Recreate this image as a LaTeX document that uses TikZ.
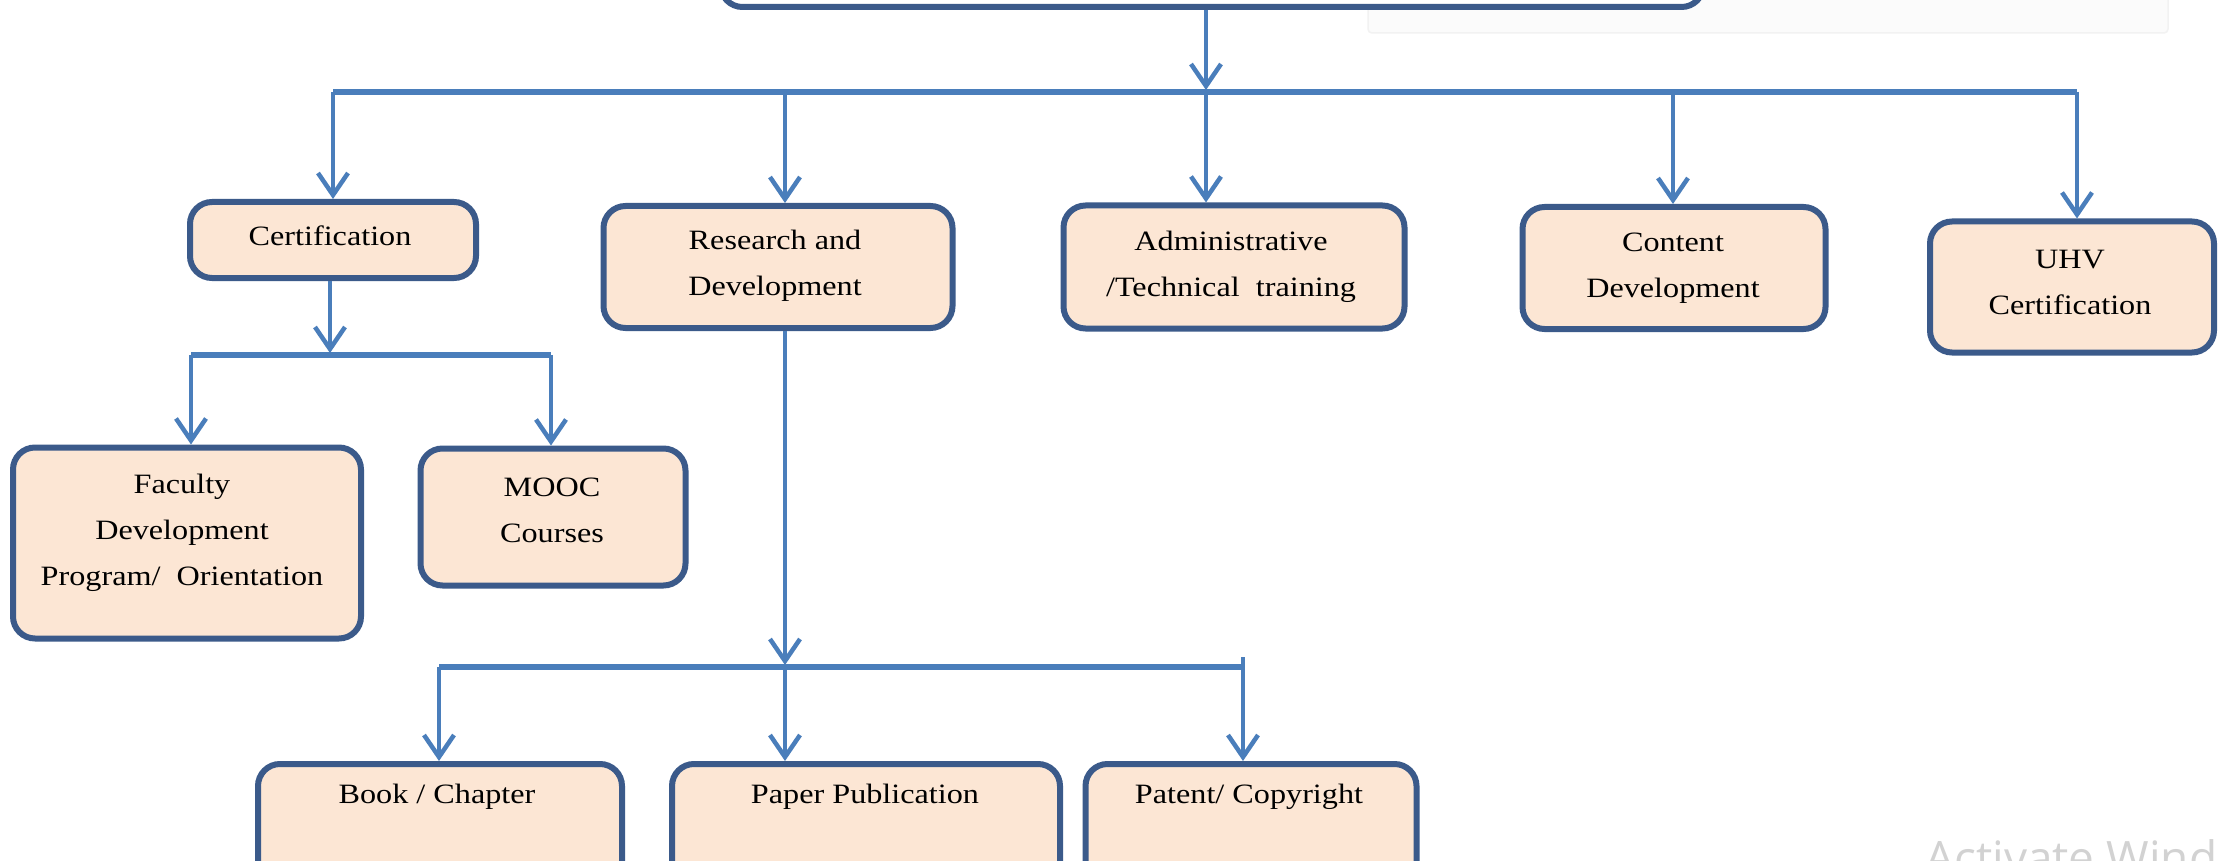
\documentclass[tikz,border=0pt]{standalone}
\usepackage{fontspec}
\setmainfont{Liberation Serif}[FakeStretch=1.15]
\newfontfamily\wmfont{Open Sans}
\usetikzlibrary{arrows.meta}
\definecolor{boxc}{HTML}{3B5A8A}
\definecolor{fillc}{HTML}{FCE6D4}
\definecolor{arrc}{HTML}{4A7EBB}
\begin{document}
\begin{tikzpicture}[x=1pt,y=-1pt,
  box/.style 2 args={draw=boxc, line width=6pt, fill=fillc, rounded corners=22pt,
    inner sep=0pt, minimum width=#1, minimum height=#2},
  txt/.style={font=\fontsize{28}{46}\selectfont, align=center, text=black, inner sep=0pt},
  arr/.style={draw=arrc, line width=4.5pt, -{Straight Barb[length=22pt,width=30pt]}},
  bar/.style={draw=arrc, line width=6pt}]
\useasboundingbox (0,0) rectangle (2219,861);
\clip (0,0) rectangle (2219,861);
\fill[white] (0,0) rectangle (2219,861);
% faint overlay
\draw[gray!10, fill=gray!3, rounded corners=4pt, line width=1.5pt] (1368,-10) rectangle (2168,33);
% boxes
\node[box={983pt}{140pt}, fill=white] (top) at (1212,-63) {};
\node[box={286pt}{76pt}] (cert) at (333,240) {};
\node[box={349pt}{122pt}] (rd) at (778,267) {};
\node[box={341pt}{123pt}] (admin) at (1234,267) {};
\node[box={303pt}{122pt}] (content) at (1674,268) {};
\node[box={284pt}{131pt}] (uhv) at (2072,287) {};
\node[box={348pt}{191pt}] (fac) at (187,543) {};
\node[box={265pt}{137pt}] (mooc) at (553,517) {};
\node[box={364pt}{136pt}] (book) at (440,832) {};
\node[box={388pt}{136pt}] (paper) at (866,832) {};
\node[box={331pt}{136pt}] (patent) at (1251,832) {};
% texts
\node[txt] (cert-t) at (330,236) {Certification};
\node[txt] (rd-t) at (775,266) {Research and\\Development};
\node[txt] (admin-t) at (1231,267) {Administrative\\/Technical\ \ training};
\node[txt] (content-t) at (1673,268) {Content\\Development};
\node[txt] (uhv-t) at (2070,282) {UHV\\Certification};
\node[txt] (fac-t) at (182,533) {Faculty\\Development\\Program/\ \ Orientation};
\node[txt] (mooc-t) at (552,510) {MOOC\\Courses};
\node[txt] (book-t) at (437,797) {Book / Chapter};
\node[txt] (paper-t) at (865,797) {Paper Publication};
\node[txt] (patent-t) at (1249,797) {Patent/ Copyright};
% main bus
\coordinate (j1) at (1206,90);
\coordinate (bl) at (333,92);
\coordinate (br) at (2077,92);
\coordinate (d2) at (785,92);
\coordinate (d3) at (1206,92);
\coordinate (d4) at (1673,92);
\draw[bar] (bl) -- (br);
\draw[arr] (top.south -| j1) -- (j1);
\draw[arr] (bl) -- (cert.north);
\draw[arr] (d2) -- (d2 |- rd.north);
\draw[arr] (d3) -- (d3 |- admin.north);
\draw[arr] (d4) -- (d4 |- content.north);
\draw[arr] (br) -- (br |- uhv.north);
% certification sub-bus
\coordinate (j2) at (330,353);
\coordinate (c1) at (191,355);
\coordinate (c2) at (551,355);
\draw[bar] (c1) -- (c2);
\draw[arr] (cert.south -| j2) -- (j2);
\draw[arr] (c1) -- (c1 |- fac.north);
\draw[arr] (c2) -- (c2 |- mooc.north);
% R&D sub-bus
\coordinate (j3) at (785,665);
\coordinate (b1) at (439,667);
\coordinate (b2) at (785,667);
\coordinate (b3) at (1243,667);
\draw[bar] (b1) -- (b3);
\draw[draw=arrc, line width=4pt] (b3) -- ++(0,-10);
\draw[arr] (rd.south -| j3) -- (j3);
\draw[arr] (b1) -- (b1 |- book.north);
\draw[arr] (b2) -- (b2 |- paper.north);
\draw[arr] (b3) -- (b3 |- patent.north);
% watermark
\node[anchor=base west, inner sep=0pt, font=\wmfont\fontsize{46}{46}\selectfont, text=gray!35] (wm) at (1925,874) {Activate Windows};
\end{tikzpicture}
\end{document}
